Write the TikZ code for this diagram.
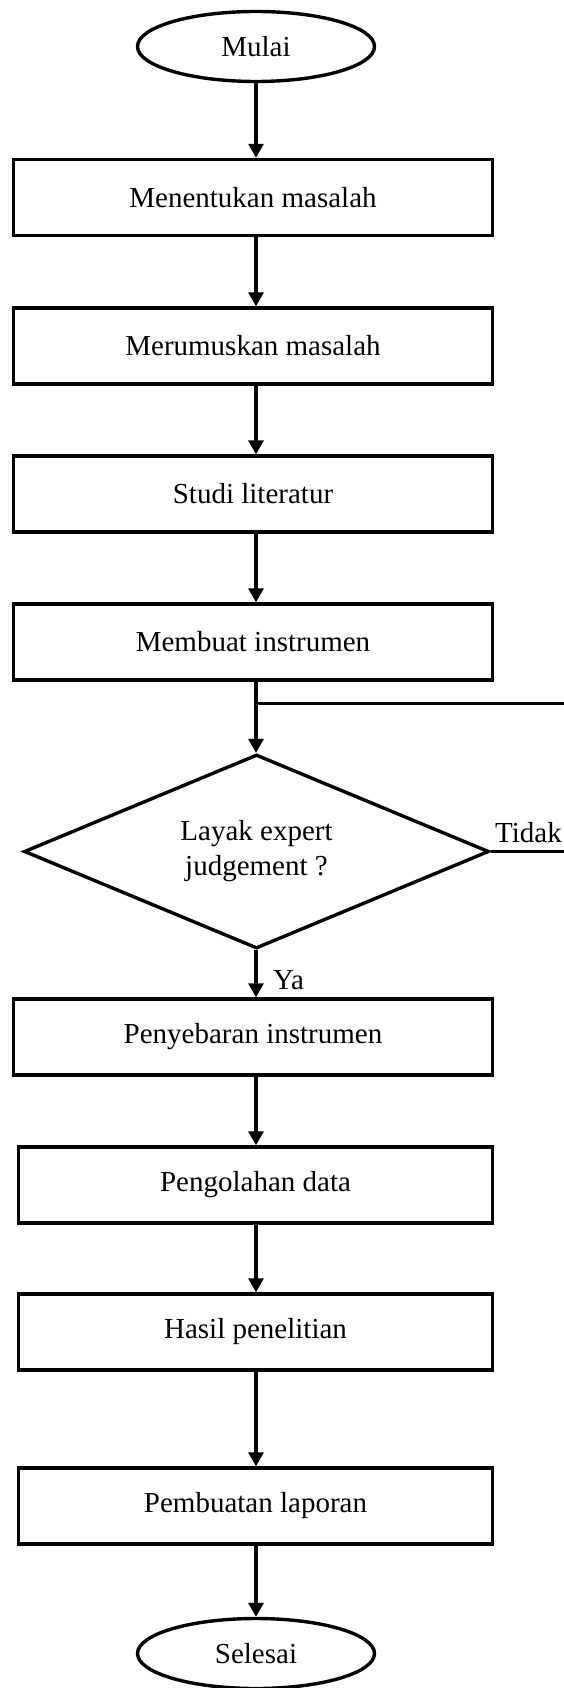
\documentclass[tikz,border=0pt]{standalone}
\usepackage{fontspec}
\setmainfont{Liberation Serif}
\usetikzlibrary{shapes.geometric,arrows.meta}
\begin{document}
\begin{tikzpicture}[x=1pt,y=-1pt,
  every node/.style={font=\fontsize{29}{35}\selectfont},
  box/.style={draw,line width=3.4pt,rectangle,minimum height=76pt,inner sep=0pt},
  term/.style={draw,line width=3.4pt,ellipse,minimum width=237pt,minimum height=70pt,inner sep=0pt},
  dec/.style={draw,line width=3.4pt,diamond,aspect=2.4,minimum width=465pt,minimum height=194pt,inner sep=0pt,align=center},
  arr/.style={line width=3.2pt,-{Triangle[width=15pt,length=14pt]}},
  ln/.style={line width=3pt},
  lbl/.style={anchor=base west,inner sep=0pt}]
\useasboundingbox (0,0) rectangle (563,1688);
\node[term] (start) at (256,46.5) {Mulai};
\node[box,minimum width=479pt] (b1) at (253,197.5) {Menentukan masalah};
\node[box,minimum width=479pt] (b2) at (253,346) {Merumuskan masalah};
\node[box,minimum width=479pt] (b3) at (253,494) {Studi literatur};
\node[box,minimum width=479pt] (b4) at (253,642) {Membuat instrumen};
\node[dec] (dia) at (256.5,851.5) {Layak expert\\judgement ?};
\node[box,minimum width=479pt] (b5) at (253,1037) {Penyebaran instrumen};
\node[box,minimum width=474pt] (b6) at (255.5,1185) {Pengolahan data};
\node[box,minimum width=474pt] (b7) at (255.5,1332) {Hasil penelitian};
\node[box,minimum width=474pt] (b8) at (255.5,1506) {Pembuatan laporan};
\node[term] (stop) at (256,1653.5) {Selesai};
\node[lbl] (tidak) at (495,842) {Tidak};
\node[lbl] (ya) at (273,989) {Ya};
\coordinate (j) at (256,703);
\coordinate (r) at (567,703);
\draw[arr] (start.south) -- (start.south |- b1.north);
\draw[arr] (start.south |- b1.south) -- (start.south |- b2.north);
\draw[arr] (start.south |- b2.south) -- (start.south |- b3.north);
\draw[arr] (start.south |- b3.south) -- (start.south |- b4.north);
\draw[arr] (start.south |- b4.south) -- (start.south |- dia.north);
\draw[ln] (dia.east) -| (r) -- (j);
\draw[arr] (start.south |- dia.south) -- (start.south |- b5.north);
\draw[arr] (start.south |- b5.south) -- (start.south |- b6.north);
\draw[arr] (start.south |- b6.south) -- (start.south |- b7.north);
\draw[arr] (start.south |- b7.south) -- (start.south |- b8.north);
\draw[arr] (start.south |- b8.south) -- (stop.north);
\end{tikzpicture}
\end{document}
